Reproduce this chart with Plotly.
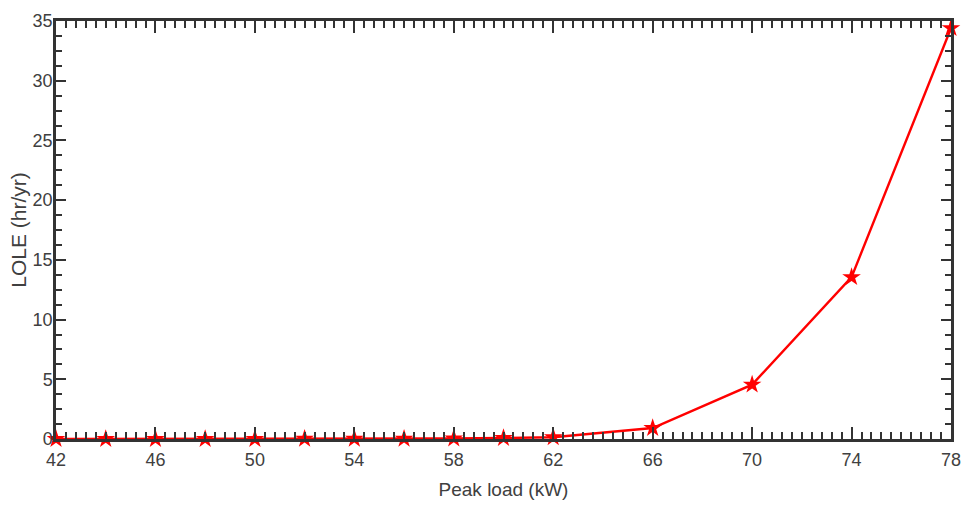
import plotly.graph_objects as go

peak_load = [42, 44, 46, 48, 50, 52, 54, 56, 58, 60, 62, 66, 70, 74, 78]
lole = [0.0, 0.0, 0.0, 0.0, 0.0, 0.01, 0.01, 0.02, 0.04, 0.08, 0.15, 0.92, 4.55, 13.55, 34.4]
x_ticks = [42, 46, 50, 54, 58, 62, 66, 70, 74, 78]
y_ticks = [0, 5, 10, 15, 20, 25, 30, 35]

axis_color = "#333333"
text_color = "#404040"
regular = "Liberation Sans, Arial, sans-serif"

fig = go.Figure()
fig.add_trace(go.Scatter(
    x=peak_load, y=lole, mode="lines+markers",
    line=dict(color="#ff0000", width=2.4),
    marker=dict(symbol="star", size=14, color="#ff0000", line=dict(width=0)),
    cliponaxis=False, showlegend=False,
))

fig.update_layout(
    width=961, height=505,
    margin=dict(l=56, r=10, t=21, b=66),
    paper_bgcolor="white", plot_bgcolor="white",
    font=dict(family=regular, color=text_color, size=18),
)
fig.update_xaxes(
    range=[42, 78], tickvals=x_ticks, ticktext=[str(v) for v in x_ticks],
    showgrid=False, zeroline=False, automargin=False,
    showline=True, linewidth=2.5, linecolor=axis_color, mirror="allticks",
    ticks="inside", ticklen=12, tickwidth=2, tickcolor=axis_color,
    minor=dict(dtick=0.4, tick0=42, ticks="inside", ticklen=7, tickwidth=2, tickcolor=axis_color, showgrid=False),
    tickfont=dict(family=regular, size=18, color=text_color),
    ticklabelstandoff=3, ticklabeloverflow="allow",
    title=dict(text="Peak load (kW)", font=dict(family=regular, size=19, color=text_color), standoff=14),
)
fig.update_yaxes(
    range=[0, 35], tickvals=y_ticks, ticktext=[str(v) for v in y_ticks],
    showgrid=False, zeroline=False, automargin=False,
    showline=True, linewidth=2.5, linecolor=axis_color, mirror="allticks",
    ticks="inside", ticklen=10, tickwidth=2, tickcolor=axis_color,
    minor=dict(dtick=1.25, tick0=0, ticks="inside", ticklen=6, tickwidth=2, tickcolor=axis_color, showgrid=False),
    tickfont=dict(family=regular, size=18, color=text_color),
    ticklabelstandoff=-3, ticklabeloverflow="allow",
    title=dict(text="LOLE (hr/yr)", font=dict(family=regular, size=21, color=text_color), standoff=1),
)

fig.write_html(
    "out.html",
    config={"displayModeBar": False},
    post_script="document.body.style.margin='0';document.body.style.overflow='hidden';",
)
